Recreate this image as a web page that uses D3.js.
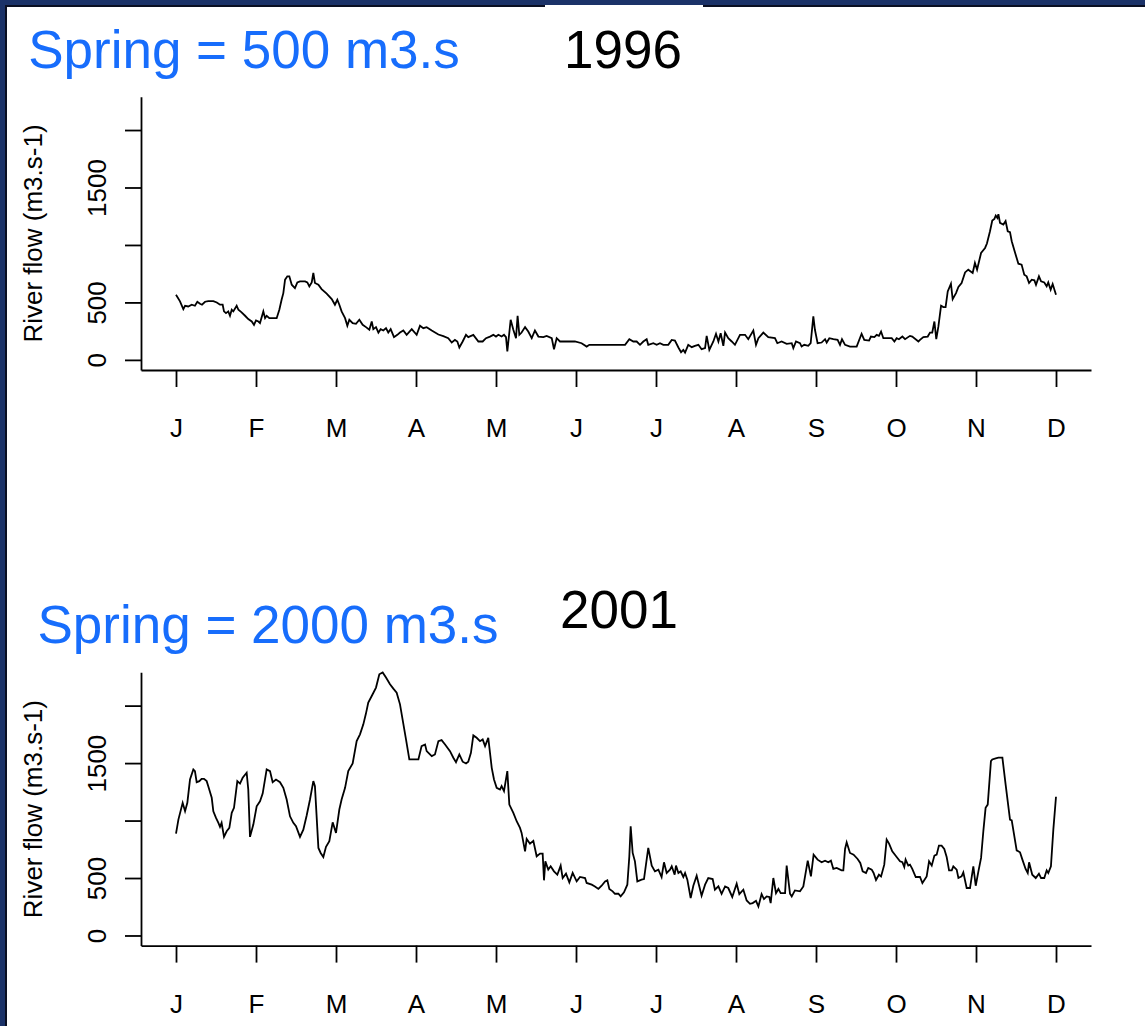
<!DOCTYPE html>
<html>
<head>
<meta charset="utf-8">
<script src="https://cdn.jsdelivr.net/npm/d3@7"></script>
<style>
  html, body { margin: 0; padding: 0; background: #1b3268; }
  svg { display: block; }
  text { font-family: "Liberation Sans", Arial, Helvetica, sans-serif; }
</style>
</head>
<body>
<script>
// ---------- data ----------
const monthLabels = ["J","F","M","A","M","J","J","A","S","O","N","D"];
const monthDays = [0,30,60,90,120,150,180,210,240,270,300,330];
const yTickValues = [0, 500, 1000, 1500, 2000];
const yTickLabels = ["0", "500", "", "1500", ""];

const titles1996 = ["Spring = 500 m3.s", "1996"];
const titles2001 = ["Spring = 2000 m3.s", "2001"];
const yLabel = "River flow (m3.s-1)";

const days1996 = [0,1.5,2.75,3.4,4.6,5.9,7.1,8,9,9.75,10.9,12.1,14,15.3,16.5,17.5,18,18.75,19.6,20.25,20.9,21.5,22.75,23.4,24.6,25.9,27.1,28.4,29.25,30,30.9,31.5,32.75,33.4,34,35,37.75,38.75,39.6,40.25,40.9,41.75,42.5,43.4,44.6,45.5,46.5,48.4,49.25,50,50.9,51.5,52.1,53.4,54.6,56.5,58.4,59.6,60.5,61.25,62.1,63.4,64.25,65,66.25,67.5,68.75,70,71.25,72.5,73.4,74,75,75.9,76.75,77.75,78.75,79.6,80.5,81.75,83,84,
85.25,86.5,88.4,90.25,91.5,92.75,94,95.9,98.4,100.25,102.1,103.4,104.6,105.5,106.25,107.5,108.75,109.6,111.5,113.4,115,116.25,117.75,119,120,120.9,122.1,123,123.75,124.25,125.5,126.5,127.5,128.1,128.75,129.6,130.9,132.1,133.4,134.6,135.9,137.75,139,140.9,141.75,142.75,144,146.5,149.6,152.1,154,155,156.5,161.5,168.4,170,171.5,172.75,174,175.25,176.5,177.1,179,180.25,181.5,182.75,184.6,185.9,187.1,188.4,189.4,190.25,190.9,192.1,193.4,194.6,195.9,197.1,198.4,199,200,201.5,202.5,203.4,204.25,205.25,205.9,207.1,208.4,209.6,211.5,213.4,214.6,216.5,217.5,218.4,220.25,222.1,224.6,225.5,227.1,229,230.9,231.5,232.5,234,234.6,235.6,237.1,238,239,239.6,240.6,242.1,243.4,244,245,246.5,248.1,249,249.75,250.9,252.75,255.25,257.1,258.1,259.9,260.6,261.9,262.75,263.6,264.4,265.25,268.4,269.4,270.25,271.1,272.4,273.4,275.25,276.1,278.4,279,280.25,281.9,282.75,283.6,284.4,285.1,285.9,286.9,287.75,288.6,289.4,290.6,291.25,292.5,293.4,294.6,295.9,297.1,298.75,299.6,300.4,301.9,303.4,304.1,305.25,306.1,306.9,307.4,308,308.4,309,310.25,311.1,311.9,312.75,313.4,314.6,315.9,317.1,318.1,319,319.9,320.9,321.9,322.5,323.6,324.4,325.6,326.5,327.1,328,328.75,330];
const flow1996 = [567,509,442,471,465,480,471,506,488,480,506,512,512,500,480,480,422,407,422,384,436,422,471,436,413,384,355,334,305,343,334,320,422,363,384,363,363,436,523,581,698,727,727,654,625,674,683,683,674,640,674,756,669,654,616,576,529,480,523,480,422,363,297,349,320,314,349,305,285,262,334,267,285,238,267,256,276,238,267,198,218,238,
256,218,267,218,297,276,285,256,221,206,189,151,174,160,108,160,218,198,218,160,160,189,203,218,203,218,203,218,198,73,349,262,189,384,218,238,285,247,189,256,203,198,209,189,93,189,160,160,160,145,116,131,131,131,131,180,160,160,131,160,180,131,145,131,145,131,131,174,168,108,67,87,64,131,111,122,131,93,102,209,87,160,227,160,232,122,238,189,160,131,218,218,180,256,131,189,238,198,189,145,160,140,145,102,160,145,116,131,122,145,378,262,145,151,180,151,189,180,174,131,180,131,116,116,227,174,168,203,198,218,209,247,189,189,160,189,180,203,180,209,203,160,174,198,203,238,238,334,180,291,471,459,459,596,663,529,581,634,669,761,785,756,843,785,930,974,1012,1119,1212,1227,1256,1236,1268,1192,1177,1207,1119,1111,1032,936,837,829,741,727,669,698,692,654,727,683,674,640,674,611,660,567];

const days2001 = [0,0.9,2.5,3.4,4.25,5.25,6.5,7.1,7.75,8.75,9.6,10.5,11.5,12.1,13.4,14,15,15.9,16.5,17.1,18,19,20,20.9,21.75,23,24,25,26.5,27.1,27.75,29,30.25,31.5,32.5,34,35.25,36.25,37.5,39,40.25,41.5,42.75,44,45,46.5,47.75,49,50.25,51.5,52.1,53.4,54.25,55.25,56.25,57.5,58.75,60,61.25,62.1,63.4,64.6,66.25,67.75,69,70.25,71.25,72.1,73.4,75,76.25,77.5,78.75,80.25,81.5,82.75,84,86.25,87.5,90.9,92.1,93.4,94,95.9,97.1,98.4,99.6,100.9,102.75,104,105,106.25,107.5,108.75,109.6,110.6,111.5,112.75,114,115,115.9,117.1,118.4,119.25,120.25,121.5,122.1,123,124.25,125,126.5,127.75,129,129.6,130.9,131.5,132.75,134,135.25,136.5,137.5,138,138.5,139.6,140.5,141.75,143,144.25,145,146.25,147.5,148.75,150.25,151.5,153.4,154,155.9,157.1,158.4,159.6,160.9,161.75,162.5,163.75,164.6,165.9,166.75,168,169.25,170,170.5,171.25,172.1,173,174.6,175.5,177.1,178.4,179.6,180.9,182.1,183,184,185.25,185.9,187,187.5,188.4,189.25,190.25,190.9,191.75,193,194,195.25,196.25,197.1,198.4,199.6,201.25,202.1,203.4,204.6,205.9,207.1,208.6,210.25,211.25,212.75,214,215.25,216.25,217.5,218.4,219.6,220.5,221.5,222.5,223,224,225,225.9,226.75,228.4,229,230.25,230.9,232.1,234,235.25,236.9,238.1,239.1,240.6,242.1,243.4,244.6,245.6,246.5,247.75,249.6,250.25,250.9,251.5,252.75,254.1,255.6,256.6,257.5,258.75,259.6,260.9,261.6,262.5,263.6,264.4,265.6,266.5,267.4,268.6,270.25,271.5,272.4,273.1,273.6,274.6,275.25,276.1,277.4,279,279.9,281.5,282.4,283.4,284.4,285.25,286.1,287.1,288.1,289,289.9,290.9,291.5,292.75,293.4,294.6,295.25,296.5,297.75,299,299.9,300.9,301.9,302.75,303.6,304.4,305.6,306.1,307.4,308.4,309.9,311.1,312.75,313.4,315.25,316.5,317.4,318.6,319.4,319.9,321.1,322.4,323.6,324.4,325.6,326.5,327.1,328.1,329,330];
const flow2001 = [886,1008,1154,1081,1154,1357,1445,1430,1334,1343,1363,1363,1343,1299,1198,1081,1023,980,945,980,858,907,936,1067,1111,1343,1322,1372,1416,1270,858,965,1124,1168,1235,1445,1430,1334,1357,1334,1285,1183,1037,980,950,858,921,1044,1183,1343,1299,762,718,683,771,820,985,893,1096,1183,1285,1430,1497,1691,1750,1837,1933,2026,2084,2157,2273,2288,2244,2186,2148,2113,2011,1706,1532,1532,1648,1662,1604,1561,1575,1691,1700,1662,1604,1547,1508,1575,1512,1497,1512,1590,1741,1720,1691,1706,1648,1720,1459,1357,1285,1270,1299,1256,1430,1139,1067,994,936,893,732,840,799,823,689,712,712,480,645,573,602,558,529,608,500,538,462,544,471,509,500,457,442,427,405,433,471,480,405,384,363,363,340,375,442,689,950,718,645,471,486,491,762,608,558,573,509,637,544,573,602,529,608,544,558,509,544,486,326,433,520,427,346,442,500,491,398,427,363,427,413,335,451,360,398,305,276,282,302,253,360,317,340,335,282,500,369,405,369,369,608,363,340,392,384,427,651,514,703,660,637,651,637,651,579,588,567,567,753,811,718,703,666,631,558,544,588,573,544,483,529,514,616,834,799,732,683,645,637,596,660,608,616,579,509,509,457,514,645,608,695,703,782,782,753,683,567,567,602,573,500,514,549,413,413,602,433,558,675,907,1111,1139,1517,1532,1541,1547,1547,1314,1008,1002,741,724,660,579,544,637,529,500,538,500,500,567,544,602,921,1207];

// ---------- drawing ----------
const W = 1145, H = 1026;
const svg = d3.select("body").append("svg").attr("width", W).attr("height", H);

// frame
svg.append("rect").attr("x", 0).attr("y", 0).attr("width", W).attr("height", H).attr("fill", "#1b3268");
svg.append("rect").attr("x", 5).attr("y", 5).attr("width", W - 5).attr("height", H - 5).attr("fill", "#0a0f22");
svg.append("rect").attr("x", 7).attr("y", 7).attr("width", W - 7).attr("height", H - 7).attr("fill", "#ffffff");
svg.append("rect").attr("x", 545).attr("y", 5).attr("width", 158).attr("height", 3).attr("fill", "#ffffff");

const x = d3.scaleLinear().domain([-13.125, 343.125]).range([141, 1091]);

const lineStroke = 1.8;

function panel(offsetY, days, flows, titles, titlePos) {
  const y = d3.scaleLinear().domain([-88, 2290]).range([370 + offsetY, 96.7 + offsetY]);
  const g = svg.append("g");

  // x axis
  const xAxis = d3.axisBottom(x)
    .tickValues(monthDays)
    .tickFormat((d, i) => monthLabels[i])
    .tickSize(17)
    .tickSizeOuter(0);
  const gx = g.append("g")
    .attr("transform", `translate(0,${370 + offsetY})`)
    .call(xAxis);
  gx.selectAll("path, line").attr("stroke", "#000").attr("stroke-width", lineStroke);
  gx.selectAll("text")
    .attr("y", 67).attr("dy", 0)
    .attr("fill", "#000")
    .style("font-size", "26px");

  // y axis
  const yAxis = d3.axisLeft(y)
    .tickValues(yTickValues)
    .tickFormat((d, i) => yTickLabels[i])
    .tickSize(16)
    .tickSizeOuter(0);
  const gy = g.append("g")
    .attr("transform", "translate(141,0)")
    .call(yAxis);
  gy.selectAll("path, line").attr("stroke", "#000").attr("stroke-width", lineStroke);
  gy.selectAll("text")
    .attr("x", 0).attr("y", 0).attr("dy", 0)
    .attr("text-anchor", "middle")
    .attr("transform", "translate(-35,0) rotate(-90)")
    .attr("fill", "#000")
    .style("font-size", "26px");

  // y label
  g.append("text")
    .attr("transform", `translate(42,${233.5 + offsetY}) rotate(-90)`)
    .attr("text-anchor", "middle")
    .style("font-size", "26px")
    .attr("fill", "#000")
    .text(yLabel);

  // line
  const pts = days.map((d, i) => [d, flows[i]]);
  g.append("path")
    .datum(pts)
    .attr("fill", "none")
    .attr("stroke", "#000")
    .attr("stroke-width", lineStroke)
    .attr("stroke-linejoin", "miter")
    .attr("d", d3.line().x(d => x(d[0])).y(d => y(d[1])));

  // titles
  g.append("text")
    .attr("x", titlePos[0]).attr("y", titlePos[1])
    .attr("text-anchor", "middle")
    .style("font-size", "53px")
    .attr("fill", "#176dfc")
    .text(titles[0]);
  g.append("text")
    .attr("x", titlePos[2]).attr("y", titlePos[3])
    .attr("text-anchor", "middle")
    .style("font-size", "53px")
    .attr("fill", "#000")
    .text(titles[1]);
}

panel(0, days1996, flow1996, titles1996, [244, 68, 623, 68]);
panel(575.6, days2001, flow2001, titles2001, [268, 643, 619, 628]);
</script>
</body>
</html>
